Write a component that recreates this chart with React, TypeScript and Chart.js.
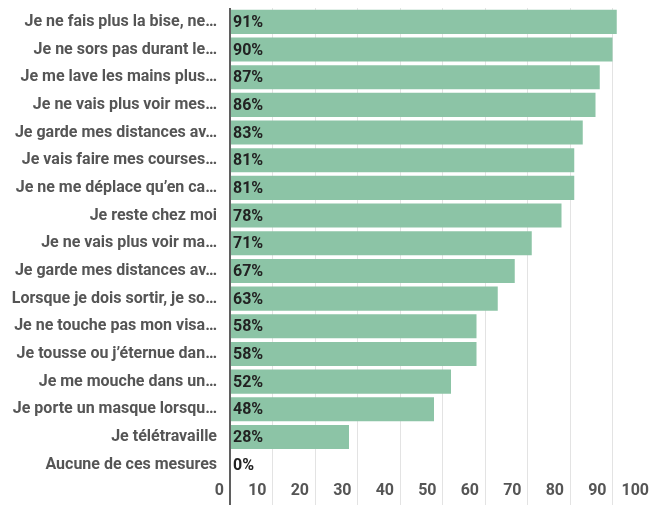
import React, { useEffect, useRef } from "react";
import { Chart, registerables } from "chart.js";

Chart.register(...registerables);

const categories: string[] = [
  "Je ne fais plus la bise, ne…",
  "Je ne sors pas durant le…",
  "Je me lave les mains plus…",
  "Je ne vais plus voir mes…",
  "Je garde mes distances av…",
  "Je vais faire mes courses…",
  "Je ne me déplace qu’en ca…",
  "Je reste chez moi",
  "Je ne vais plus voir ma…",
  "Je garde mes distances av…",
  "Lorsque je dois sortir, je so…",
  "Je ne touche pas mon visa…",
  "Je tousse ou j’éternue dan…",
  "Je me mouche dans un…",
  "Je porte un masque lorsqu…",
  "Je télétravaille",
  "Aucune de ces mesures",
];

const values: number[] = [91, 90, 87, 86, 83, 81, 81, 78, 71, 67, 63, 58, 58, 52, 48, 28, 0];

const xMin = 0;
const xMax = 100;
const xStep = 10;

const FONT = "Roboto, 'Noto Sans', sans-serif";

const dataLabelPlugin = {
  id: "inlineDataLabels",
  afterDatasetsDraw(chart: any) {
    const { ctx, chartArea } = chart;
    const meta = chart.getDatasetMeta(0);
    ctx.save();
    ctx.font = `bold 16px ${FONT}`;
    ctx.fillStyle = "#222222";
    ctx.textAlign = "left";
    ctx.textBaseline = "middle";
    meta.data.forEach((bar: any, i: number) => {
      ctx.fillText(`${values[i]}%`, chartArea.left + 3, bar.y + 1);
    });
    ctx.restore();
  },
};

export default function App() {
  const canvasRef = useRef<HTMLCanvasElement | null>(null);

  useEffect(() => {
    if (!canvasRef.current) return;
    const chart = new Chart(canvasRef.current, {
      type: "bar",
      data: {
        labels: categories,
        datasets: [
          {
            data: values,
            backgroundColor: "rgb(140,196,166)",
            borderWidth: 0,
            barPercentage: 0.87,
            categoryPercentage: 1,
          },
        ],
      },
      options: {
        indexAxis: "y",
        animation: false,
        responsive: true,
        maintainAspectRatio: false,
        layout: { padding: { top: 8, bottom: 0, left: 0, right: 0 } },
        plugins: {
          legend: { display: false },
          tooltip: { enabled: false },
        },
        scales: {
          x: {
            type: "linear",
            min: xMin,
            max: xMax,
            afterFit: (scale: any) => {
              scale.paddingLeft = 0;
              scale.paddingRight = 0;
              scale.height = 26.5;
            },
            border: { display: false },
            grid: {
              drawTicks: true,
              tickLength: 27,
              color: (ctx: any) => (ctx.tick && ctx.tick.value === 0 ? "#5f5f5f" : "#e3e3e3"),
              lineWidth: (ctx: any) => (ctx.tick && ctx.tick.value === 0 ? 2 : 1),
            },
            ticks: {
              stepSize: xStep,
              align: "end",
              labelOffset: -6,
              padding: -24,
              maxRotation: 0,
              autoSkip: false,
              color: "#555555",
              font: { family: FONT, size: 16, weight: "bold" },
            },
          },
          y: {
            afterFit: (scale: any) => {
              scale.width = 230;
              scale.paddingTop = 0;
              scale.paddingBottom = 0;
            },
            border: { display: false },
            grid: { display: false, drawTicks: false },
            ticks: {
              padding: 13,
              autoSkip: false,
              color: "#555555",
              font: { family: FONT, size: 16, weight: "bold" },
            },
          },
        },
      },
      plugins: [dataLabelPlugin],
    });
    return () => chart.destroy();
  }, []);

  return (
    <div
      style={{
        position: "fixed",
        left: 0,
        top: 0,
        width: 651,
        height: 505,
        overflow: "hidden",
        background: "#ffffff",
      }}
    >
      <div style={{ position: "relative", width: 655, height: 505 }}>
        <canvas ref={canvasRef} />
      </div>
    </div>
  );
}
